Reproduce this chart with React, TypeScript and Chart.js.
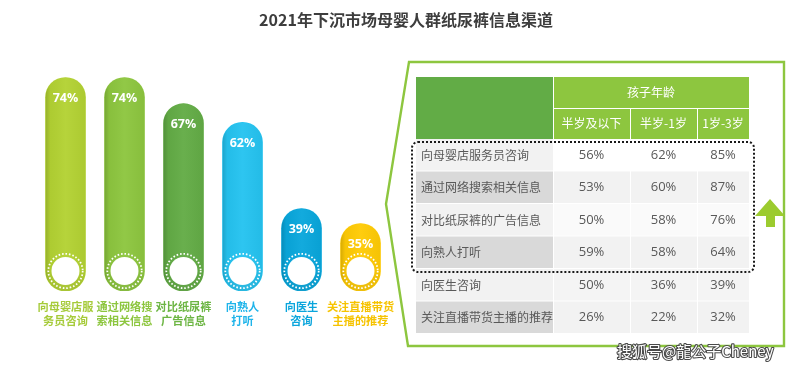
import React, { useEffect, useRef } from "react";
import { Chart, registerables } from "chart.js";
Chart.register(...registerables);

const TITLE = "2021年下沉市场母婴人群纸尿裤信息渠道";
const channels = ["向母婴店服\n务员咨询", "通过网络搜\n索相关信息", "对比纸尿裤\n广告信息", "向熟人\n打听", "向医生\n咨询", "关注直播带货\n主播的推荐"];
const channelValues = [74, 74, 67, 62, 39, 35];
const barColors = ["#b3d233", "#8dc63f", "#63ac46", "#25c3f0", "#09a7dc", "#ffcb05"];
const labelColors = ["#a6cb3a", "#8dc63f", "#6cb543", "#1fb4ea", "#0aa5dc", "#f6c300"];
const Y_MIN = 17;
const Y_MAX = 80;

const ageHeader = "孩子年龄";
const ageGroups = ["半岁及以下", "半岁-1岁", "1岁-3岁"];
const tableRows = ["向母婴店服务员咨询", "通过网络搜索相关信息", "对比纸尿裤的广告信息", "向熟人打听", "向医生咨询", "关注直播带货主播的推荐"];
const under6m = [56, 53, 50, 59, 50, 26];
const m6to1y = [62, 60, 58, 58, 36, 22];
const y1to3 = [85, 87, 76, 64, 39, 32];
const WATERMARK = "搜狐号@龍公子Cheney";

const CJK = '"Noto Sans CJK SC", "Noto Sans", sans-serif';
const NUM = '"Open Sans", "Noto Sans", sans-serif';

function pillPath(ctx: CanvasRenderingContext2D, x: number, top: number, bottom: number, w: number) {
  const r = w / 2;
  ctx.beginPath();
  ctx.moveTo(x - r, top + r);
  ctx.arc(x, top + r, r, Math.PI, 0);
  ctx.lineTo(x + r, bottom - r);
  ctx.arc(x, bottom - r, r, 0, Math.PI);
  ctx.closePath();
}

const decorPlugin = {
  id: "decor",
  afterDatasetsDraw(chart: any) {
    const ctx: CanvasRenderingContext2D = chart.ctx;
    const meta = chart.getDatasetMeta(0);
    ctx.save();
    meta.data.forEach((bar: any, i: number) => {
      const { x, y, base, width } = bar.getProps(["x", "y", "base", "width"], true);
      // slight 3D shading
      ctx.save();
      pillPath(ctx, x, y, base, width);
      ctx.clip();
      const g = ctx.createLinearGradient(x - width / 2, 0, x + width / 2, 0);
      g.addColorStop(0, "rgba(0,0,0,0.16)");
      g.addColorStop(0.12, "rgba(0,0,0,0.03)");
      g.addColorStop(0.5, "rgba(255,255,255,0.04)");
      g.addColorStop(1, "rgba(0,0,0,0.04)");
      ctx.fillStyle = g;
      ctx.fillRect(x - width / 2, y, width, base - y);
      const gb = ctx.createLinearGradient(0, base - 22, 0, base);
      gb.addColorStop(0, "rgba(0,0,0,0)");
      gb.addColorStop(1, "rgba(0,0,0,0.08)");
      ctx.fillStyle = gb;
      ctx.fillRect(x - width / 2, base - 22, width, 22);
      ctx.restore();

      // white circle + dotted ring
      const cy = base - width / 2;
      ctx.beginPath();
      ctx.arc(x, cy, 14, 0, Math.PI * 2);
      ctx.fillStyle = "#ffffff";
      ctx.fill();
      ctx.beginPath();
      ctx.arc(x, cy, 17.2, 0, Math.PI * 2);
      ctx.setLineDash([1.6, 1.9]);
      ctx.lineWidth = 1.8;
      ctx.strokeStyle = "#ffffff";
      ctx.stroke();
      ctx.setLineDash([]);

      // value label
      ctx.fillStyle = "#ffffff";
      ctx.font = `bold 12.5px ${NUM}`;
      ctx.textAlign = "center";
      ctx.textBaseline = "middle";
      ctx.fillText(channelValues[i] + "%", x, y + 21);

      // category label
      ctx.fillStyle = labelColors[i];
      ctx.font = `bold 11.2px ${CJK}`;
      const lines = channels[i].split("\n");
      lines.forEach((ln, k) => ctx.fillText(ln, x, base + 16 + k * 14));
    });

    // title
    ctx.fillStyle = "#3d3d3d";
    ctx.font = `bold 16px ${CJK}`;
    ctx.textAlign = "center";
    ctx.textBaseline = "middle";
    ctx.fillText(TITLE, 406, 20);

    // green outline polygon
    ctx.beginPath();
    ctx.moveTo(409, 62);
    ctx.lineTo(784, 62);
    ctx.lineTo(784, 346);
    ctx.lineTo(408, 346);
    ctx.lineTo(386, 204);
    ctx.closePath();
    ctx.lineWidth = 2.4;
    ctx.strokeStyle = "#8dc63f";
    ctx.stroke();

    // table
    const colX = [416, 553, 630, 697, 749];
    const rowY = [139, 171.5, 204, 236.5, 269, 301.5, 334];
    const h0 = 77, h1 = 108;
    ctx.fillStyle = "#62ac46";
    ctx.fillRect(colX[0], h0, colX[1] - colX[0], rowY[0] - h0);
    ctx.fillStyle = "#8dc63f";
    ctx.fillRect(colX[1], h0, colX[4] - colX[1], rowY[0] - h0);
    ctx.strokeStyle = "#ffffff";
    ctx.lineWidth = 1;
    ctx.beginPath();
    ctx.moveTo(colX[1] + 0.5, h0);
    ctx.lineTo(colX[1] + 0.5, rowY[0]);
    ctx.moveTo(colX[1], h1 + 0.5);
    ctx.lineTo(colX[4], h1 + 0.5);
    ctx.moveTo(colX[2] + 0.5, h1);
    ctx.lineTo(colX[2] + 0.5, rowY[0]);
    ctx.moveTo(colX[3] + 0.5, h1);
    ctx.lineTo(colX[3] + 0.5, rowY[0]);
    ctx.stroke();
    ctx.fillStyle = "#ffffff";
    ctx.font = `12px ${CJK}`;
    ctx.fillText(ageHeader, (colX[1] + colX[4]) / 2, (h0 + h1) / 2);
    ageGroups.forEach((a, j) => ctx.fillText(a, (colX[j + 1] + colX[j + 2]) / 2, (h1 + rowY[0]) / 2));

    const labelFill = ["#f2f2f2", "#d9d9d9", "#f2f2f2", "#d9d9d9", "#f2f2f2", "#d9d9d9"];
    const valueFill = ["#ffffff", "#f2f2f2", "#fafafa", "#f2f2f2", "#f4f4f4", "#f2f2f2"];
    const cols = [under6m, m6to1y, y1to3];
    tableRows.forEach((name, r) => {
      const top = rowY[r], bot = rowY[r + 1];
      ctx.fillStyle = labelFill[r];
      ctx.fillRect(colX[0], top, colX[1] - colX[0], bot - top - 1);
      for (let j = 0; j < 3; j++) {
        ctx.fillStyle = valueFill[r];
        ctx.fillRect(colX[j + 1] + 1, top, colX[j + 2] - colX[j + 1] - 1, bot - top - 1);
      }
      const cy = (top + bot) / 2;
      ctx.fillStyle = "#595959";
      ctx.font = `12px ${CJK}`;
      ctx.textAlign = "left";
      ctx.fillText(name, 421, cy);
      ctx.textAlign = "center";
      ctx.font = `13px ${NUM}`;
      cols.forEach((c, j) => ctx.fillText(c[r] + "%", (colX[j + 1] + colX[j + 2]) / 2, cy));
    });

    // dotted rounded rect around top four rows
    ctx.beginPath();
    (ctx as any).roundRect(412, 142, 342, 130, 6);
    ctx.setLineDash([2, 2]);
    ctx.lineWidth = 2;
    ctx.strokeStyle = "#1a1a1a";
    ctx.stroke();
    ctx.setLineDash([]);

    // up arrow
    ctx.beginPath();
    ctx.moveTo(770, 199);
    ctx.lineTo(785, 216);
    ctx.lineTo(775, 216);
    ctx.lineTo(775, 227);
    ctx.lineTo(766, 227);
    ctx.lineTo(766, 216);
    ctx.lineTo(755, 216);
    ctx.closePath();
    ctx.fillStyle = "#9ccb2f";
    ctx.fill();

    // watermark
    ctx.font = `15px ${CJK}`;
    ctx.textAlign = "left";
    ctx.lineWidth = 2.2;
    ctx.strokeStyle = "#4a4a4a";
    ctx.lineJoin = "round";
    ctx.strokeText(WATERMARK, 617, 351);
    ctx.fillStyle = "#ffffff";
    ctx.fillText(WATERMARK, 617, 351);
    ctx.restore();
  },
};

export default function App() {
  const ref = useRef<HTMLCanvasElement>(null);
  useEffect(() => {
    document.body.style.margin = "0";
    const chart = new Chart(ref.current!, {
      type: "bar",
      data: {
        labels: channels.map((c) => c.split("\n")),
        datasets: [
          {
            data: channelValues,
            backgroundColor: barColors,
            borderRadius: 20,
            borderSkipped: false,
            barThickness: 40,
            base: Y_MIN,
          },
        ],
      },
      options: {
        responsive: false,
        animation: false,
        layout: { padding: { top: 55, bottom: 76, left: 36, right: 410 } },
        plugins: { legend: { display: false }, title: { display: false }, tooltip: { enabled: false } },
        scales: {
          x: { display: false },
          y: { display: false, min: Y_MIN, max: Y_MAX },
        },
      },
      plugins: [decorPlugin],
    });
    return () => chart.destroy();
  }, []);
  return (
    <div style={{ width: 800, height: 367, background: "#fff" }}>
      <canvas ref={ref} width={800} height={367} style={{ display: "block" }} />
    </div>
  );
}
